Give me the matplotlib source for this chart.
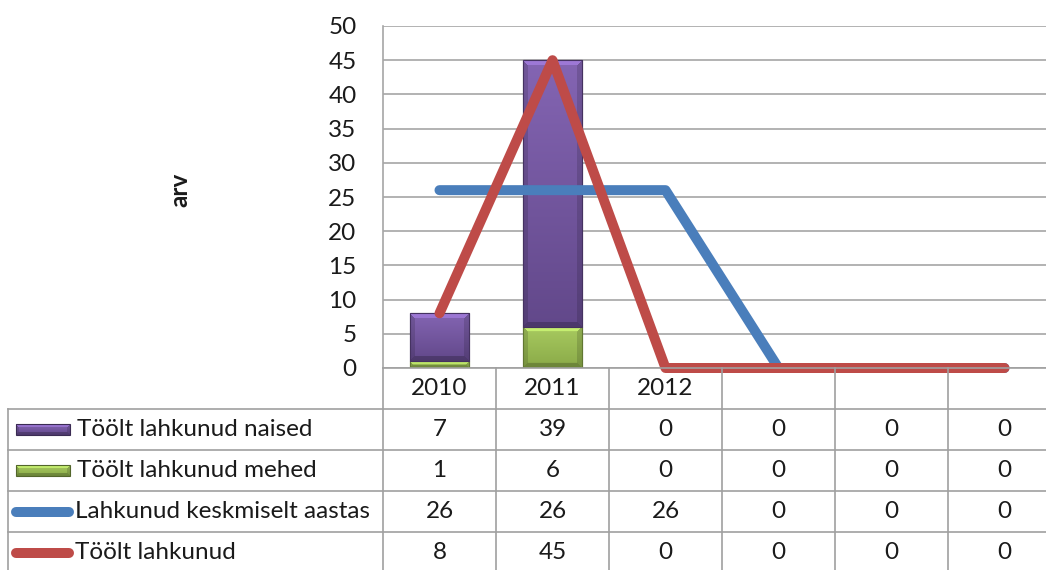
import matplotlib
matplotlib.use("Agg")
import matplotlib.pyplot as plt
import numpy as np
from matplotlib.patches import Rectangle
from matplotlib.lines import Line2D

# ---- data ----
categories = ["2010", "2011", "2012", "", "", ""]
naised = [7, 39, 0, 0, 0, 0]
mehed = [1, 6, 0, 0, 0, 0]
keskmine = [26, 26, 26, 0, 0, 0]
kokku = [8, 45, 0, 0, 0, 0]
series_names = ["Töölt lahkunud naised", "Töölt lahkunud mehed",
                "Lahkunud keskmiselt aastas", "Töölt lahkunud"]
yticks = list(range(0, 51, 5))
ylabel = "arv"

FONT = "Lato"
plt.rcParams['font.family'] = [FONT, 'DejaVu Sans']
W, H = 1046, 570
fig = plt.figure(figsize=(W / 100, H / 100), dpi=100)
fig.patch.set_facecolor("white")


def hx(h):
    h = h.lstrip('#')
    return np.array([int(h[i:i + 2], 16) for i in (0, 2, 4)]) / 255


purple_top, purple_bot = hx("#8465B3"), hx("#62488A")
green_top, green_bot = hx("#A8CA60"), hx("#8AAA48")
blue = "#4A7EBB"
red = "#BE4B48"
grid_c = "#A6A6A6"
txt_c = "#1a1a1a"
FS = 17.5

ax = fig.add_axes([383 / W, 1 - 368 / H, (1061 - 383) / W, (368 - 26) / H])
n = len(categories)
x = np.arange(n)
ax.set_xlim(-0.5, n - 0.5)
ax.set_ylim(0, 50)
ax.set_yticks(yticks)
ax.set_xticks([])
ax.tick_params(axis='y', length=0, pad=19, labelsize=FS, labelcolor=txt_c)
for s in ["top", "right", "bottom"]:
    ax.spines[s].set_visible(False)
ax.spines["left"].set_color(grid_c)
ax.spines["left"].set_linewidth(1.2)
ax.yaxis.grid(True, color=grid_c, linewidth=1.2)
ax.set_axisbelow(True)

fig.canvas.draw()


def bevel_img(wpx, hpx, ctop, cbot, bev=5.0):
    wpx = max(int(round(wpx)), 2)
    hpx = max(int(round(hpx)), 2)
    yy = (np.arange(hpx)[:, None] + 0.5) * np.ones((1, wpx))   # 0 = top row
    xx = (np.arange(wpx)[None, :] + 0.5) * np.ones((hpx, 1))
    t = yy / hpx
    base = ctop[None, None, :] * (1 - t[..., None]) + cbot[None, None, :] * t[..., None]
    dt, db = yy, hpx - yy
    dl, dr = xx, wpx - xx
    b = min(bev, hpx / 2.5)
    dmin = np.minimum(np.minimum(dt, db), np.minimum(dl, dr))
    f = np.ones((hpx, wpx))
    f[(dmin == dl) & (dl < b)] = 0.86
    f[(dmin == dr) & (dr < b)] = 0.86
    f[(dmin == db) & (db < b)] = 0.78
    f[(dmin == dt) & (dt < b)] = 1.2
    img = np.clip(base * f[..., None], 0, 1)
    return img


bw = 0.52
sx = ax.transData.transform((1, 0))[0] - ax.transData.transform((0, 0))[0]
sy = ax.transData.transform((0, 1))[1] - ax.transData.transform((0, 0))[1]
for vals, bottoms, ct, cb in ((mehed, [0] * n, green_top, green_bot),
                              (naised, mehed, purple_top, purple_bot)):
    bars = ax.bar(x, vals, width=bw, bottom=bottoms, color=(ct + cb) / 2,
                  edgecolor=cb * 0.7, linewidth=0.8, zorder=2)
    for b in bars:
        if b.get_height() <= 0:
            continue
        x0, y0 = b.get_x(), b.get_y()
        img = bevel_img(b.get_width() * sx, b.get_height() * sy, ct, cb)
        im = ax.imshow(img, extent=[x0, x0 + b.get_width(), y0, y0 + b.get_height()],
                       origin='upper', aspect='auto', zorder=2.1, interpolation='bilinear')
        ax.add_patch(Rectangle((x0, y0), b.get_width(), b.get_height(), fill=False,
                               edgecolor=cb * 0.7, linewidth=0.8, zorder=2.3))
ax.set_xlim(-0.5, n - 0.5)
ax.set_ylim(0, 50)

lw = 7.2
ax.plot(x, keskmine, color=blue, lw=lw, solid_capstyle='round', solid_joinstyle='round',
        zorder=3, clip_on=False)
ax.plot(x, kokku, color=red, lw=lw, solid_capstyle='round', solid_joinstyle='round',
        zorder=4, clip_on=False)

fig.text(180 / W, 1 - 190 / H, ylabel, rotation=90, fontsize=FS, fontweight='bold',
         ha='center', va='center', color=txt_c)

# ---- data table drawn in pixel coordinates ----
tab = fig.add_axes([0, 0, 1, 1], zorder=5)
tab.set_xlim(0, W)
tab.set_ylim(H, 0)
tab.axis('off')
tab.patch.set_alpha(0)

xb = [ax.transData.transform((i - 0.5, 0))[0] for i in range(n + 1)]
xc = [ax.transData.transform((i, 0))[0] for i in range(n)]
y_axis = H - ax.transData.transform((0, 0))[1]
rh = 41
rows_top = [y_axis + rh * k for k in range(6)]
tc = "#A0A0A0"
left = 8
tab.add_line(Line2D([xb[0], W + 20], [y_axis, y_axis], color=tc, lw=1.2))
for k in range(1, 5):
    tab.add_line(Line2D([left, W + 20], [rows_top[k]] * 2, color=tc, lw=1.2))
tab.add_line(Line2D([left, left], [rows_top[1], H + 10], color=tc, lw=1.2))
for i in range(n):
    tab.add_line(Line2D([xb[i], xb[i]], [y_axis, H + 10], color=tc, lw=1.2))

for i in range(n):
    tab.text(xc[i], (rows_top[0] + rows_top[1]) / 2, categories[i], ha='center', va='center',
             fontsize=FS, color=txt_c)

all_vals = [naised, mehed, keskmine, kokku]
for r in range(4):
    yc = (rows_top[r + 1] + rows_top[r + 2]) / 2
    for i in range(n):
        tab.text(xc[i], yc, str(all_vals[r][i]), ha='center', va='center', fontsize=FS, color=txt_c)
    if r < 2:
        ct, cb = (purple_top, purple_bot) if r == 0 else (green_top, green_bot)
        img = bevel_img(54, 11, ct, cb, bev=3)
        tab.imshow(img, extent=[16, 70, yc + 5.5, yc - 5.5], origin='upper', aspect='auto',
                   interpolation='bilinear', zorder=2)
        tab.add_patch(Rectangle((16, yc - 5.5), 54, 11, fill=False, edgecolor=cb * 0.6, lw=0.8, zorder=3))
        tab.text(77, yc, series_names[r], ha='left', va='center', fontsize=FS, color=txt_c)
    else:
        col = blue if r == 2 else red
        tab.add_line(Line2D([16, 69], [yc, yc], color=col, lw=lw, solid_capstyle='round'))
        tab.text(75, yc, series_names[r], ha='left', va='center', fontsize=FS, color=txt_c)
tab.set_xlim(0, W)
tab.set_ylim(H, 0)

fig.savefig("out.png", dpi=100, facecolor="white")
